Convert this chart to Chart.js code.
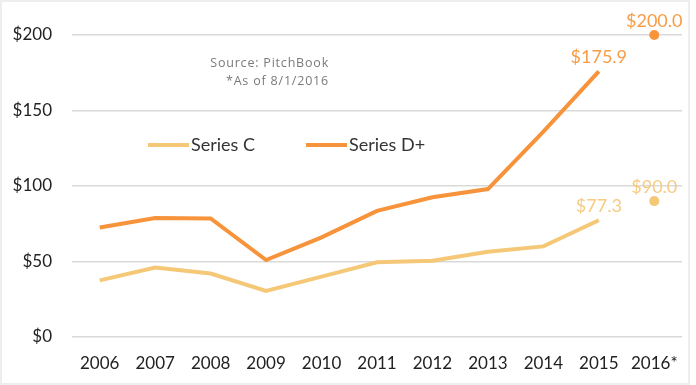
<!DOCTYPE html>
<html>
<head>
<meta charset="utf-8">
<script src="https://cdn.jsdelivr.net/npm/chart.js@4.4.0/dist/chart.umd.min.js"></script>
<style>
  html, body { margin: 0; padding: 0; background: #fff; }
  #cadre { position: absolute; left: 0; top: 0; width: 686px; height: 381px; border: 2px solid #eeeeee; }
  #zone { position: absolute; left: 0; top: 0; width: 696px; height: 385px; }
</style>
</head>
<body>
<div id="cadre"></div>
<div id="zone"><canvas id="graphique" width="696" height="385"></canvas></div>
<script>
// Données
const annees = ["2006", "2007", "2008", "2009", "2010", "2011", "2012", "2013", "2014", "2015", "2016*"];
const serieC = [37.5, 46, 42, 30.5, 40, 49.5, 50.5, 56.5, 60, 77.3, 90.0];
const serieD = [72.5, 78.8, 78.5, 51, 66, 83.5, 92.5, 98, 136, 175.9, 200.0];
const ticksY = [0, 50, 100, 150, 200];
const etiquettes = [9, 10]; // points annotés (2015, 2016*)

const couleurC = "#F5C878";
const couleurD = "#F7933A";
const POLICE = "Lato, 'Open Sans', sans-serif";

function dernierSegmentMasque(couleur) {
    return {
        borderColor: ctx => ctx.p1DataIndex === annees.length - 1 ? "transparent" : couleur
    };
}

// Étiquettes de valeur, légende et source
const decorations = {
    id: "decorations",
    afterDatasetsDraw(chart) {
        const ctx = chart.ctx;
        ctx.save();
        ctx.font = "18px " + POLICE;
        ctx.textAlign = "center";
        ctx.textBaseline = "middle";
        chart.data.datasets.forEach((ds, i) => {
            const meta = chart.getDatasetMeta(i);
            etiquettes.forEach(idx => {
                const pt = meta.data[idx];
                ctx.fillStyle = ds.couleurTexte;
                ctx.fillText("$" + ds.data[idx].toFixed(1), pt.x, pt.y - 14);
            });
        });

        // légende
        const legende = [
            { texte: "Series C", couleur: couleurC, x: 148 },
            { texte: "Series D+", couleur: couleurD, x: 306 }
        ];
        ctx.textAlign = "left";
        ctx.font = "18px " + POLICE;
        legende.forEach(l => {
            ctx.strokeStyle = l.couleur;
            ctx.lineWidth = 4;
            ctx.beginPath();
            ctx.moveTo(l.x, 145);
            ctx.lineTo(l.x + 41, 145);
            ctx.stroke();
            ctx.fillStyle = "#333333";
            ctx.fillText(l.texte, l.x + 43, 145);
        });

        // source
        ctx.font = "12.5px 'Open Sans', sans-serif";
        ctx.letterSpacing = "0.8px";
        ctx.fillStyle = "#7a7a7a";
        ctx.textAlign = "right";
        ctx.fillText("Source: PitchBook", 329, 63);
        ctx.fillText("*As of 8/1/2016", 329, 81);
        ctx.restore();
    }
};

const ctx = document.getElementById("graphique").getContext("2d");
new Chart(ctx, {
    type: "line",
    data: {
        labels: annees,
        datasets: [
            {
                label: "Series C",
                data: serieC,
                borderColor: couleurC,
                backgroundColor: couleurC,
                couleurTexte: "#F6CB82",
                borderWidth: 4,
                tension: 0,
                clip: false,
                pointRadius: c => c.dataIndex === annees.length - 1 ? 5 : 0,
                pointBorderWidth: 0,
                segment: dernierSegmentMasque(couleurC)
            },
            {
                label: "Series D+",
                data: serieD,
                borderColor: couleurD,
                backgroundColor: couleurD,
                couleurTexte: "#F89C45",
                borderWidth: 4,
                tension: 0,
                clip: false,
                pointRadius: c => c.dataIndex === annees.length - 1 ? 5 : 0,
                pointBorderWidth: 0,
                segment: dernierSegmentMasque(couleurD)
            }
        ]
    },
    options: {
        responsive: false,
        animation: false,
        events: [],
        layout: { padding: { top: 35, right: 14, left: 0, bottom: 0 } },
        plugins: {
            legend: { display: false },
            tooltip: { enabled: false }
        },
        scales: {
            x: {
                offset: true,
                grid: { display: false, drawTicks: false },
                border: { display: false },
                ticks: { color: "#222222", font: { family: POLICE, size: 17 }, padding: 16, maxRotation: 0 },
                afterFit: s => { s.height = 48; }
            },
            y: {
                min: 0,
                max: 200,
                afterBuildTicks: s => { s.ticks = ticksY.map(v => ({ value: v })); },
                grid: { color: "#d9d9d9", lineWidth: 1.5, drawTicks: false },
                border: { display: false },
                ticks: {
                    color: "#222222",
                    font: { family: POLICE, size: 17 },
                    padding: 20,
                    callback: v => "$" + v
                },
                afterFit: s => { s.width = 72; }
            }
        }
    },
    plugins: [decorations]
});
</script>
</body>
</html>
